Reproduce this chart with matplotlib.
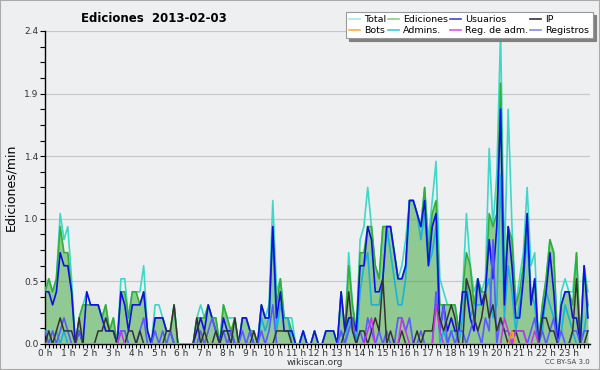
import matplotlib
matplotlib.use("Agg")
import matplotlib.pyplot as plt
from matplotlib.lines import Line2D
from matplotlib.patches import Rectangle
import numpy as np

hour_labels = [f"{h} h" for h in range(24)]
ytick_values = [0.0, 0.48, 0.96, 1.44, 1.92, 2.4]
ytick_labels = ["0.0", "0.5", "1.0", "1.4", "1.9", "2.4"]

# values every 10 minutes (edits/min), one line per hour
total = [
    0.4, 0.5, 0.4, 0.5, 1.0, 0.8,
    0.9, 0.5, 0.0, 0.2, 0.3, 0.4,
    0.3, 0.3, 0.3, 0.2, 0.3, 0.1,
    0.2, 0.0, 0.5, 0.5, 0.2, 0.4,
    0.4, 0.4, 0.6, 0.1, 0.0, 0.3,
    0.3, 0.2, 0.1, 0.1, 0.3, 0.0,
    0.0, 0.0, 0.0, 0.0, 0.2, 0.3,
    0.2, 0.3, 0.2, 0.2, 0.0, 0.3,
    0.2, 0.2, 0.2, 0.0, 0.2, 0.2,
    0.1, 0.1, 0.0, 0.3, 0.2, 0.3,
    1.1, 0.4, 0.5, 0.2, 0.2, 0.2,
    0.0, 0.0, 0.1, 0.0, 0.0, 0.1,
    0.0, 0.0, 0.1, 0.1, 0.1, 0.0,
    0.4, 0.1, 0.7, 0.3, 0.1, 0.8,
    0.9, 1.2, 0.9, 0.6, 0.5, 0.9,
    0.9, 0.9, 0.7, 0.5, 0.6, 0.8,
    1.1, 1.1, 1.0, 0.9, 1.2, 0.8,
    1.1, 1.4, 0.5, 0.4, 0.3, 0.3,
    0.3, 0.1, 0.4, 1.0, 0.6, 0.4,
    0.5, 0.4, 0.5, 1.5, 0.9, 1.3,
    2.4, 0.6, 1.8, 0.9, 0.3, 0.5,
    0.7, 1.2, 0.6, 0.7, 0.0, 0.3,
    0.5, 0.8, 0.7, 0.0, 0.4, 0.5,
    0.4, 0.4, 0.7, 0.0, 0.6, 0.4,
]
ediciones = [
    0.4, 0.5, 0.4, 0.5, 0.9, 0.7,
    0.7, 0.4, 0.0, 0.2, 0.3, 0.3,
    0.3, 0.3, 0.3, 0.2, 0.3, 0.1,
    0.2, 0.0, 0.4, 0.4, 0.2, 0.4,
    0.4, 0.3, 0.4, 0.1, 0.0, 0.2,
    0.2, 0.2, 0.1, 0.1, 0.3, 0.0,
    0.0, 0.0, 0.0, 0.0, 0.2, 0.2,
    0.2, 0.3, 0.2, 0.2, 0.0, 0.3,
    0.2, 0.1, 0.2, 0.0, 0.2, 0.2,
    0.1, 0.1, 0.0, 0.3, 0.2, 0.2,
    0.9, 0.3, 0.5, 0.2, 0.2, 0.1,
    0.0, 0.0, 0.1, 0.0, 0.0, 0.1,
    0.0, 0.0, 0.1, 0.1, 0.1, 0.0,
    0.4, 0.1, 0.6, 0.3, 0.1, 0.7,
    0.7, 0.9, 0.9, 0.6, 0.5, 0.9,
    0.9, 0.9, 0.7, 0.5, 0.5, 0.6,
    1.1, 1.1, 1.0, 0.9, 1.2, 0.7,
    1.0, 1.1, 0.3, 0.3, 0.3, 0.3,
    0.3, 0.1, 0.4, 0.7, 0.6, 0.3,
    0.5, 0.4, 0.4, 1.0, 0.9, 1.0,
    2.0, 0.5, 0.9, 0.8, 0.3, 0.4,
    0.6, 1.0, 0.3, 0.5, 0.0, 0.3,
    0.5, 0.8, 0.7, 0.0, 0.3, 0.4,
    0.4, 0.3, 0.7, 0.0, 0.6, 0.3,
]
usuarios = [
    0.4, 0.4, 0.3, 0.4, 0.7, 0.6,
    0.6, 0.4, 0.0, 0.1, 0.0, 0.4,
    0.3, 0.3, 0.3, 0.2, 0.1, 0.1,
    0.1, 0.0, 0.4, 0.3, 0.1, 0.3,
    0.3, 0.3, 0.4, 0.1, 0.0, 0.2,
    0.2, 0.2, 0.1, 0.1, 0.0, 0.0,
    0.0, 0.0, 0.0, 0.0, 0.1, 0.2,
    0.1, 0.3, 0.2, 0.1, 0.0, 0.2,
    0.1, 0.1, 0.0, 0.0, 0.2, 0.2,
    0.1, 0.0, 0.0, 0.3, 0.2, 0.2,
    0.9, 0.2, 0.4, 0.1, 0.1, 0.1,
    0.0, 0.0, 0.1, 0.0, 0.0, 0.1,
    0.0, 0.0, 0.1, 0.1, 0.1, 0.0,
    0.4, 0.1, 0.2, 0.2, 0.1, 0.6,
    0.6, 0.9, 0.8, 0.4, 0.4, 0.5,
    0.9, 0.9, 0.7, 0.5, 0.5, 0.6,
    1.1, 1.1, 1.0, 0.9, 1.1, 0.6,
    0.9, 1.0, 0.1, 0.3, 0.1, 0.2,
    0.1, 0.1, 0.4, 0.4, 0.2, 0.1,
    0.5, 0.3, 0.4, 0.8, 0.5, 0.9,
    1.8, 0.3, 0.9, 0.6, 0.2, 0.2,
    0.5, 1.0, 0.3, 0.5, 0.0, 0.2,
    0.4, 0.7, 0.4, 0.0, 0.3, 0.4,
    0.4, 0.2, 0.2, 0.0, 0.6, 0.2,
]
ip = [
    0.0, 0.1, 0.0, 0.1, 0.2, 0.1,
    0.1, 0.1, 0.0, 0.2, 0.0, 0.0,
    0.0, 0.0, 0.1, 0.1, 0.2, 0.1,
    0.1, 0.0, 0.0, 0.0, 0.1, 0.1,
    0.0, 0.1, 0.0, 0.0, 0.0, 0.0,
    0.0, 0.0, 0.1, 0.1, 0.3, 0.0,
    0.0, 0.0, 0.0, 0.0, 0.2, 0.0,
    0.1, 0.0, 0.0, 0.1, 0.0, 0.1,
    0.1, 0.0, 0.2, 0.0, 0.0, 0.0,
    0.0, 0.1, 0.0, 0.0, 0.0, 0.0,
    0.0, 0.1, 0.1, 0.1, 0.1, 0.0,
    0.0, 0.0, 0.0, 0.0, 0.0, 0.0,
    0.0, 0.0, 0.0, 0.0, 0.0, 0.0,
    0.0, 0.1, 0.4, 0.1, 0.0, 0.1,
    0.1, 0.0, 0.1, 0.2, 0.1, 0.5,
    0.0, 0.1, 0.0, 0.0, 0.1, 0.0,
    0.0, 0.0, 0.1, 0.0, 0.1, 0.1,
    0.1, 0.3, 0.2, 0.1, 0.2, 0.3,
    0.2, 0.0, 0.0, 0.5, 0.4, 0.2,
    0.1, 0.2, 0.4, 0.2, 0.3, 0.1,
    0.2, 0.1, 0.0, 0.1, 0.1, 0.0,
    0.0, 0.0, 0.0, 0.0, 0.0, 0.2,
    0.2, 0.1, 0.1, 0.0, 0.0, 0.0,
    0.0, 0.1, 0.5, 0.0, 0.0, 0.1,
]
admins = [
    0.1, 0.1, 0.0, 0.1, 0.0, 0.1,
    0.0, 0.0, 0.0, 0.0, 0.0, 0.0,
    0.0, 0.0, 0.0, 0.0, 0.0, 0.0,
    0.0, 0.0, 0.1, 0.1, 0.0, 0.0,
    0.0, 0.0, 0.0, 0.0, 0.0, 0.0,
    0.0, 0.0, 0.0, 0.0, 0.0, 0.0,
    0.0, 0.0, 0.0, 0.0, 0.0, 0.0,
    0.0, 0.0, 0.0, 0.0, 0.0, 0.1,
    0.1, 0.0, 0.0, 0.0, 0.0, 0.0,
    0.0, 0.0, 0.0, 0.2, 0.1, 0.2,
    0.9, 0.1, 0.3, 0.2, 0.2, 0.0,
    0.0, 0.0, 0.1, 0.0, 0.0, 0.0,
    0.0, 0.0, 0.0, 0.0, 0.0, 0.0,
    0.1, 0.0, 0.2, 0.1, 0.0, 0.4,
    0.6, 0.7, 0.3, 0.3, 0.3, 0.5,
    0.9, 0.7, 0.5, 0.3, 0.3, 0.5,
    1.1, 1.1, 1.0, 0.8, 1.0, 0.6,
    0.7, 0.9, 0.0, 0.1, 0.0, 0.1,
    0.1, 0.0, 0.2, 0.5, 0.2, 0.3,
    0.3, 0.3, 0.4, 0.5, 0.2, 0.3,
    1.3, 0.2, 0.6, 0.4, 0.1, 0.3,
    0.5, 0.8, 0.4, 0.3, 0.0, 0.1,
    0.4, 0.3, 0.2, 0.0, 0.1, 0.3,
    0.2, 0.1, 0.0, 0.0, 0.1, 0.3,
]
registros = [
    0.1, 0.0, 0.1, 0.0, 0.1, 0.2,
    0.1, 0.0, 0.0, 0.1, 0.0, 0.0,
    0.0, 0.0, 0.0, 0.0, 0.0, 0.0,
    0.0, 0.0, 0.1, 0.1, 0.0, 0.0,
    0.0, 0.1, 0.2, 0.0, 0.0, 0.1,
    0.0, 0.1, 0.0, 0.1, 0.0, 0.0,
    0.0, 0.0, 0.0, 0.0, 0.0, 0.1,
    0.0, 0.1, 0.2, 0.1, 0.0, 0.1,
    0.0, 0.1, 0.0, 0.0, 0.1, 0.0,
    0.1, 0.0, 0.0, 0.1, 0.0, 0.1,
    0.3, 0.0, 0.0, 0.0, 0.0, 0.0,
    0.0, 0.0, 0.0, 0.0, 0.0, 0.0,
    0.0, 0.0, 0.0, 0.0, 0.0, 0.0,
    0.1, 0.0, 0.1, 0.2, 0.0, 0.1,
    0.0, 0.2, 0.1, 0.0, 0.1, 0.0,
    0.1, 0.0, 0.0, 0.2, 0.2, 0.1,
    0.2, 0.0, 0.0, 0.1, 0.0, 0.0,
    0.0, 0.4, 0.1, 0.3, 0.0, 0.1,
    0.0, 0.1, 0.1, 0.0, 0.1, 0.2,
    0.1, 0.0, 0.2, 0.1, 0.8, 0.0,
    0.2, 0.1, 0.1, 0.0, 0.1, 0.1,
    0.1, 0.0, 0.1, 0.2, 0.0, 0.1,
    0.0, 0.1, 0.2, 0.0, 0.1, 0.0,
    0.0, 0.1, 0.1, 0.0, 0.1, 0.1,
]
reg_adm = [
    0.0, 0.0, 0.0, 0.0, 0.0, 0.0,
    0.0, 0.0, 0.0, 0.0, 0.0, 0.0,
    0.0, 0.0, 0.0, 0.0, 0.0, 0.0,
    0.0, 0.0, 0.1, 0.0, 0.0, 0.0,
    0.0, 0.0, 0.0, 0.0, 0.0, 0.0,
    0.0, 0.0, 0.0, 0.0, 0.0, 0.0,
    0.0, 0.0, 0.0, 0.0, 0.0, 0.0,
    0.0, 0.0, 0.0, 0.0, 0.0, 0.0,
    0.0, 0.0, 0.0, 0.0, 0.0, 0.0,
    0.0, 0.0, 0.0, 0.0, 0.0, 0.0,
    0.0, 0.0, 0.0, 0.0, 0.0, 0.0,
    0.0, 0.0, 0.0, 0.0, 0.0, 0.0,
    0.0, 0.0, 0.0, 0.0, 0.0, 0.0,
    0.0, 0.0, 0.0, 0.0, 0.0, 0.0,
    0.0, 0.1, 0.2, 0.0, 0.0, 0.0,
    0.0, 0.0, 0.0, 0.0, 0.2, 0.1,
    0.0, 0.0, 0.0, 0.0, 0.0, 0.0,
    0.0, 0.3, 0.1, 0.0, 0.0, 0.0,
    0.0, 0.0, 0.0, 0.0, 0.0, 0.0,
    0.0, 0.0, 0.0, 0.0, 0.0, 0.0,
    0.0, 0.2, 0.1, 0.0, 0.1, 0.1,
    0.1, 0.0, 0.0, 0.1, 0.0, 0.0,
    0.0, 0.0, 0.0, 0.0, 0.0, 0.0,
    0.0, 0.0, 0.0, 0.0, 0.0, 0.0,
]
bots = [0.0] * 123 + [0.1] + [0.0] * 20

x = np.arange(len(total))

bg = "#eeeff1"
fig = plt.figure(figsize=(6, 3.7), dpi=100, facecolor=bg)
ax = fig.add_axes([0.075, 0.0703, 0.908, 0.846])
ax.set_facecolor(bg)

ax.fill_between(x, ediciones, 0, color="#44aa44", alpha=0.55, lw=0, zorder=2)
ax.plot(x, total, color="#3ed8c8", lw=1.2, zorder=3)
ax.plot(x, ediciones, color="#33b033", lw=1.2, zorder=3)
ax.plot(x, admins, color="#18b4d8", lw=1.2, zorder=4)
ax.plot(x, usuarios, color="#1010e6", lw=1.2, zorder=5)
ax.plot(x, registros, color="#5a5aff", lw=1.2, zorder=5)
ax.plot(x, ip, color="#333333", lw=1.1, zorder=5)
ax.plot(x, reg_adm, color="#cc33dd", lw=1.1, zorder=5)
ax.plot(x, bots, color="#ff9922", lw=1.1, zorder=5)

ax.set_xlim(0, 143.5)
ax.set_ylim(0, 2.4)
ax.set_xticks(np.arange(0, 144, 6))
ax.set_xticklabels(hour_labels)
ax.set_xticks(np.arange(0, 144, 1), minor=True)
ax.set_yticks(ytick_values)
ax.set_yticklabels(ytick_labels)
ax.set_yticks(np.arange(0, 2.41, 0.12), minor=True)
ax.tick_params(axis="both", which="both", labelsize=6.5, labelcolor="#333333",
               length=3.5, width=0.8, pad=1)
ax.tick_params(axis="x", which="both", length=3, pad=0.5)
ax.yaxis.grid(True, which="major", color="#c8c8c8", lw=0.9)
ax.set_axisbelow(True)
for s in ["top", "right"]:
    ax.spines[s].set_visible(False)
for s in ["left", "bottom"]:
    ax.spines[s].set_linewidth(1.0)

ax.set_ylabel("Ediciones/min", fontsize=9, labelpad=5)
fig.text(0.257, 0.951, "Ediciones  2013-02-03", fontsize=8.5, fontweight="bold",
         ha="center", va="center")
fig.text(0.525, 0.021, "wikiscan.org", fontsize=6.5, ha="center", va="center",
         color="#333333")
fig.text(0.983, 0.021, "CC BY-SA 3.0", fontsize=5, ha="right", va="center",
         color="#444444")

handles = [
    Line2D([], [], color="#a8e8e0", lw=1.2),
    Line2D([], [], color="#ffaa44", lw=1.2),
    Line2D([], [], color="#88d088", lw=1.2),
    Line2D([], [], color="#44c8e0", lw=1.2),
    Line2D([], [], color="#4444dd", lw=1.2),
    Line2D([], [], color="#dd55ee", lw=1.2),
    Line2D([], [], color="#333333", lw=1.2),
    Line2D([], [], color="#8888ee", lw=1.2),
]
labels = ["Total", "Bots", "Ediciones", "Admins.", "Usuarios", "Reg. de adm.",
          "IP", "Registros"]
leg = fig.legend(handles, labels, loc="upper right", bbox_to_anchor=(0.988, 0.968),
                 ncol=4, fontsize=6.8, handlelength=1.1, handletextpad=0.5,
                 columnspacing=0.2, labelspacing=0.2, borderpad=0.35,
                 borderaxespad=0.0,
                 fancybox=False, framealpha=1, edgecolor="#999999",
                 shadow={"color": "#808080", "alpha": 1})
leg.get_frame().set_linewidth(0.8)

fig.patches.append(Rectangle((0, 0), 1, 1, transform=fig.transFigure, fill=False,
                             edgecolor="#aaaaaa", lw=1.5))

fig.savefig("out.png", dpi=100, facecolor=bg)
